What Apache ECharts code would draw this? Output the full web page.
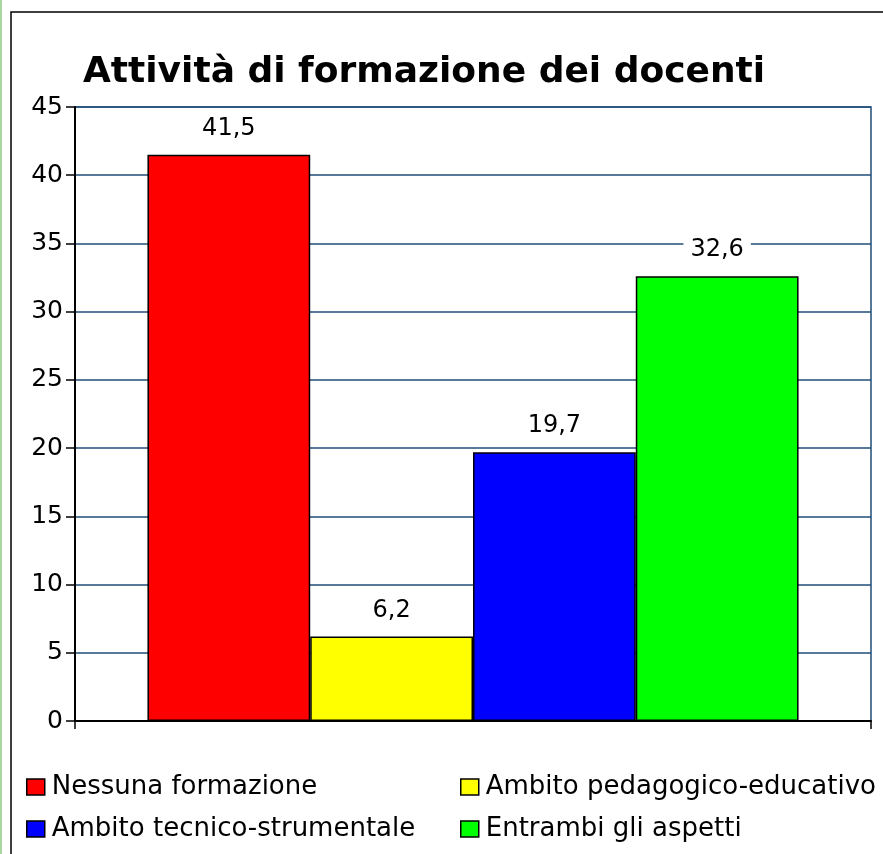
<!DOCTYPE html>
<html>
<head>
  <meta charset="utf-8">
  <script src="https://cdn.jsdelivr.net/npm/echarts@6/dist/echarts.min.js"></script>
  <style>
    html, body { margin: 0; padding: 0; background: #ffffff; }
    #chart { width: 883px; height: 854px; }
  </style>
</head>
<body>
<div id="chart"></div>
<script>
// dati
const categories = [''];
const seriesNames = ['Nessuna formazione', 'Ambito pedagogico-educativo', 'Ambito tecnico-strumentale', 'Entrambi gli aspetti'];
const seriesValues = [41.5, 6.2, 19.7, 32.6];
const seriesColors = ['#ff0000', '#ffff00', '#0000ff', '#00ff00'];
const yTicks = {min: 0, max: 45, interval: 5};

const font = 'DejaVu Sans, Arial, sans-serif';

let chart = echarts.init(document.getElementById('chart'));

let series = seriesNames.map((name, i) => ({
  name: name,
  type: 'bar',
  data: [seriesValues[i]],
  barGap: '0%',
  barCategoryGap: '18.2%',
  itemStyle: {
    color: seriesColors[i],
    borderColor: '#000',
    borderWidth: 1.5
  },
  label: {
    show: true,
    position: 'top',
    distance: 12,
    fontFamily: font,
    fontSize: 24,
    color: '#000',
    backgroundColor: '#fff',
    padding: [2, 7],
    formatter: p => String(p.value).replace('.', ',')
  }
}));

let option = {
  animation: false,
  title: {
    text: 'Attività di formazione dei docenti',
    left: 78,
    top: 50,
    textStyle: {
      fontFamily: font,
      fontSize: 36,
      fontWeight: 'bold',
      color: '#000'
    }
  },
  legend: [
    {
      orient: 'vertical',
      left: 21,
      top: 769,
      itemGap: 16,
      itemWidth: 18,
      itemHeight: 16,
      icon: 'rect',
      data: [seriesNames[0], seriesNames[2]],
      itemStyle: {borderColor: '#000', borderWidth: 1.5},
      textStyle: {fontFamily: font, fontSize: 26, color: '#000', padding: [0, 0, 0, 2]}
    },
    {
      orient: 'vertical',
      left: 455,
      top: 769,
      itemGap: 16,
      itemWidth: 18,
      itemHeight: 16,
      icon: 'rect',
      data: [seriesNames[1], seriesNames[3]],
      itemStyle: {borderColor: '#000', borderWidth: 1.5},
      textStyle: {fontFamily: font, fontSize: 26, color: '#000', padding: [0, 0, 0, 2]}
    }
  ],
  grid: {
    left: 75,
    top: 107,
    right: 12,
    bottom: 133,
    show: true,
    borderColor: '#1f4e79',
    borderWidth: 1.5,
    containLabel: false
  },
  xAxis: {
    type: 'category',
    data: categories,
    axisLine: {show: true, lineStyle: {color: '#000', width: 2}},
    axisTick: {show: true, length: 8, lineStyle: {color: '#000', width: 1.5}},
    axisLabel: {show: false}
  },
  yAxis: {
    type: 'value',
    min: yTicks.min,
    max: yTicks.max,
    interval: yTicks.interval,
    axisLine: {show: true, lineStyle: {color: '#000', width: 2}},
    axisTick: {show: true, length: 9, lineStyle: {color: '#000', width: 1.5}},
    axisLabel: {fontFamily: font, fontSize: 25, color: '#000', margin: 12},
    splitLine: {show: true, lineStyle: {color: '#1f4e79', width: 1.5}}
  },
  graphic: [
    {
      type: 'rect',
      shape: {x: 11, y: 12, width: 1000, height: 1000},
      style: {fill: 'none', stroke: '#000', lineWidth: 1.5},
      silent: true
    },
    {
      type: 'line',
      shape: {x1: 1, y1: 0, x2: 1, y2: 854},
      style: {stroke: '#a8d8a0', lineWidth: 2},
      silent: true
    }
  ],
  series: series
};

chart.setOption(option);
</script>
</body>
</html>
